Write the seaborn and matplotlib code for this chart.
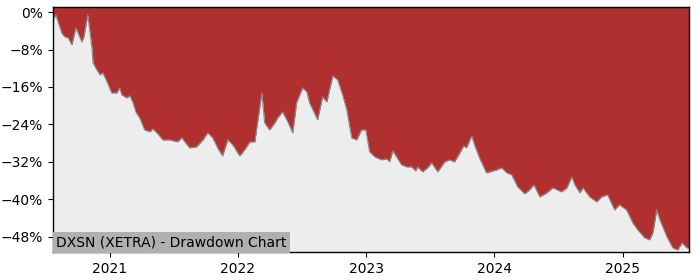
import matplotlib
matplotlib.use("Agg")
import matplotlib.pyplot as plt
import matplotlib.ticker as mticker
import seaborn as sns
import pandas as pd

dates = [
    "2020-07-23", "2020-07-31", "2020-08-12", "2020-08-18", "2020-08-26", "2020-09-04",
    "2020-09-15", "2020-09-26", "2020-10-02", "2020-10-13", "2020-10-19", "2020-10-30",
    "2020-11-11", "2020-11-14", "2020-11-25", "2020-12-04", "2020-12-12", "2020-12-24",
    "2021-01-06", "2021-01-21", "2021-01-29", "2021-02-04", "2021-02-18", "2021-02-27",
    "2021-03-07", "2021-03-16", "2021-03-27", "2021-04-10", "2021-04-25", "2021-05-03",
    "2021-05-15", "2021-06-01", "2021-06-20", "2021-07-13", "2021-07-25", "2021-08-16",
    "2021-09-05", "2021-09-23", "2021-10-07", "2021-10-21", "2021-11-04", "2021-11-18",
    "2021-12-03", "2021-12-17", "2022-01-06", "2022-01-20", "2022-02-04", "2022-02-18",
    "2022-02-24", "2022-03-10", "2022-03-18", "2022-04-01", "2022-04-16", "2022-04-24",
    "2022-05-08", "2022-05-23", "2022-06-06", "2022-06-17", "2022-07-04", "2022-07-16",
    "2022-07-24", "2022-08-16", "2022-08-30", "2022-09-11", "2022-09-28", "2022-10-12",
    "2022-10-26", "2022-11-07", "2022-11-21", "2022-12-05", "2022-12-19", "2022-12-31",
    "2023-01-11", "2023-01-26", "2023-02-14", "2023-03-01", "2023-03-09", "2023-03-18",
    "2023-03-29", "2023-04-12", "2023-04-27", "2023-05-11", "2023-05-22", "2023-05-28",
    "2023-06-11", "2023-06-25", "2023-07-07", "2023-07-24", "2023-08-13", "2023-08-27",
    "2023-09-10", "2023-09-25", "2023-10-06", "2023-10-14", "2023-10-29", "2023-11-06",
    "2023-11-20", "2023-12-10", "2024-01-08", "2024-01-22", "2024-02-06", "2024-02-20",
    "2024-03-08", "2024-03-28", "2024-04-11", "2024-04-23", "2024-05-10", "2024-05-30",
    "2024-06-16", "2024-07-11", "2024-07-26", "2024-08-09", "2024-08-18", "2024-09-01",
    "2024-09-10", "2024-09-29", "2024-10-19", "2024-11-02", "2024-11-19", "2024-12-09",
    "2024-12-23", "2025-01-12", "2025-01-30", "2025-02-13", "2025-03-05", "2025-03-19",
    "2025-03-28", "2025-04-08", "2025-04-17", "2025-05-07", "2025-05-24", "2025-06-07",
    "2025-06-19", "2025-07-03", "2025-07-09",
]

drawdown_pct = [
    -1.65, -0.58, -3.36, -4.64, -5.28, -5.50,
    -7.00, -3.36, -4.43, -6.35, -5.28, -0.58,
    -7.64, -10.84, -12.34, -13.41, -12.98, -14.91,
    -17.26, -17.26, -16.19, -17.69, -18.33, -17.90,
    -19.19, -21.33, -22.61, -25.18, -25.60, -24.96,
    -25.82, -27.32, -27.32, -27.74, -26.89, -29.03,
    -28.81, -27.32, -25.82, -26.89, -29.03, -30.74,
    -27.32, -28.38, -30.74, -29.45, -27.74, -27.74,
    -24.53, -17.26, -23.68, -25.18, -23.68, -22.61,
    -21.33, -23.46, -25.82, -19.40, -16.19, -17.05,
    -19.40, -23.04, -18.12, -19.19, -13.63, -14.48,
    -17.69, -20.90, -26.89, -27.32, -25.18, -25.18,
    -29.88, -30.95, -31.59, -31.38, -32.02, -29.67,
    -30.95, -32.66, -33.09, -33.09, -33.95, -33.09,
    -34.16, -33.30, -32.23, -34.16, -32.02, -31.59,
    -32.02, -30.10, -28.60, -29.03, -26.46, -28.38,
    -31.17, -34.37, -33.73, -33.30, -34.37, -34.80,
    -37.37, -38.86, -38.01, -36.94, -39.51, -38.65,
    -37.58, -38.44, -37.58, -35.23, -36.94, -38.65,
    -37.58, -39.51, -40.58, -39.51, -39.08, -42.29,
    -41.22, -42.29, -45.07, -46.57, -48.28, -48.70,
    -47.21, -42.29, -44.43, -48.06, -50.42, -50.85,
    -49.35, -50.42, -50.42,
]

y_ticks = [0, -8, -16, -24, -32, -40, -48]
title_text = "DXSN (XETRA) - Drawdown Chart"

df = pd.DataFrame({"date": pd.to_datetime(dates), "dd": drawdown_pct})

sns.set_theme(style="ticks", rc={
    "axes.facecolor": "#ededed",
    "axes.edgecolor": "black",
    "axes.linewidth": 1.0,
    "xtick.color": "black",
    "ytick.color": "black",
    "font.size": 10,
    "xtick.labelsize": 10,
    "ytick.labelsize": 10,
})
plt.rcParams["font.family"] = ["DejaVu Sans"]

fig = plt.figure(figsize=(7, 2.8), dpi=100)
ax = fig.add_axes([53 / 700, 28 / 280, 636 / 700, 245 / 280])

y_top = 1.1
y_bottom = -51.3
ax.fill_between(df["date"], df["dd"], y_top + 5, color="#b03030", linewidth=0, zorder=1)
sns.lineplot(data=df, x="date", y="dd", ax=ax, color="#8a8a8a", linewidth=0.8, zorder=2)

ax.set_xlim(df["date"].iloc[0], df["date"].iloc[-1])
ax.set_ylim(y_bottom, y_top)
ax.set_yticks(y_ticks)
ax.yaxis.set_major_formatter(mticker.FuncFormatter(
    lambda v, p: ("\u2212" if v < 0 else "") + f"{abs(v):.0f}%"))
ax.xaxis.set_major_locator(matplotlib.dates.YearLocator())
ax.xaxis.set_major_formatter(matplotlib.dates.DateFormatter("%Y"))
ax.set_xlabel("")
ax.set_ylabel("")
for s in ax.spines.values():
    s.set_visible(True)
    s.set_color("black")
ax.tick_params(axis="both", length=3.5, width=0.8, direction="out")

ax.text(0.005, 0.012, title_text, transform=ax.transAxes, fontsize=10,
        ha="left", va="bottom", color="black",
        bbox=dict(facecolor="#b0b0b0", edgecolor="none", pad=2.5))

fig.savefig("out.png", dpi=100)
